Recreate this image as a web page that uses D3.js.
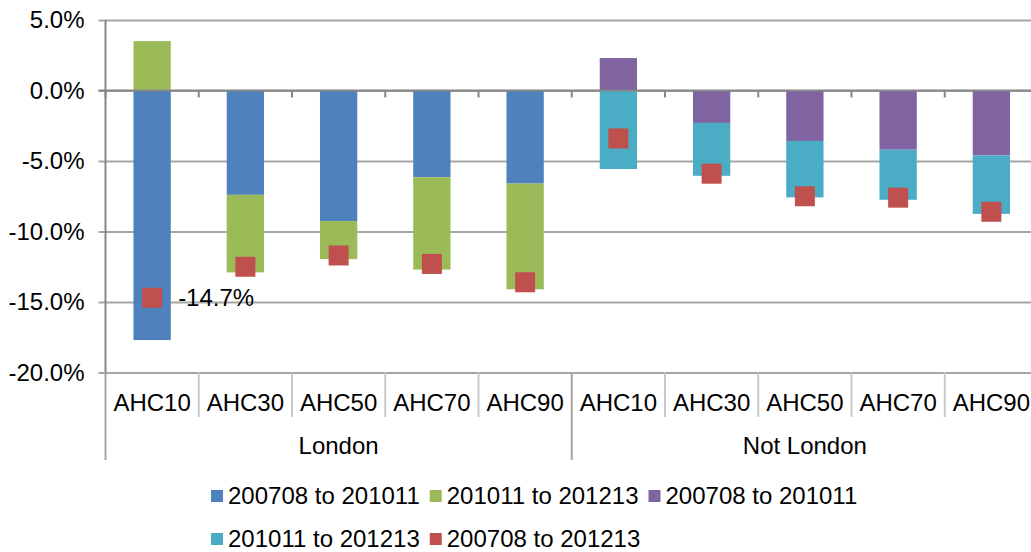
<!DOCTYPE html>
<html>
<head>
<meta charset="utf-8">
<script src="https://cdn.jsdelivr.net/npm/d3@7"></script>
<style>
    body { margin: 0; background: #fff; }
    text { font-family: "Liberation Sans", Arial, sans-serif; fill: #000; }
</style>
</head>
<body>
<div id="chart"></div>
<script>
// values, in percent
const categories = ["AHC10", "AHC30", "AHC50", "AHC70", "AHC90"];
const groups = ["London", "Not London"];
const londonEarly = [-17.7, -7.4, -9.26, -6.15, -6.6];
const londonLate = [3.5, -5.5, -2.7, -6.55, -7.5];
const notLondonEarly = [2.3, -2.3, -3.58, -4.2, -4.6];
const notLondonLate = [-5.57, -3.75, -4.0, -3.55, -4.15];
const totalChange = [-14.7, -12.5, -11.7, -12.3, -13.6, -3.4, -5.9, -7.5, -7.6, -8.6];
const yTicks = [5, 0, -5, -10, -15, -20];

const seriesKeys = ["londonEarly", "londonLate", "notLondonEarly", "notLondonLate"];
const legendItems = [
    {'key': 'londonEarly', 'text': '200708 to 201011', 'color': '#4F81BD'},
    {'key': 'londonLate', 'text': '201011 to 201213', 'color': '#9BBB59'},
    {'key': 'notLondonEarly', 'text': '200708 to 201011', 'color': '#8064A2'},
    {'key': 'notLondonLate', 'text': '201011 to 201213', 'color': '#4BACC6'},
    {'key': 'total', 'text': '200708 to 201213', 'color': '#C0504D'}
];
const colors = {};
legendItems.forEach((d) => { colors[d.key] = d.color; });

// one row per category, London first
let rows = [];
groups.forEach((g, gi) => {
    categories.forEach((c, i) => {
        rows.push({
            'id': gi * categories.length + i,
            'group': g,
            'cat': c,
            'londonEarly': gi === 0 ? londonEarly[i] / 100 : 0,
            'londonLate': gi === 0 ? londonLate[i] / 100 : 0,
            'notLondonEarly': gi === 1 ? notLondonEarly[i] / 100 : 0,
            'notLondonLate': gi === 1 ? notLondonLate[i] / 100 : 0,
            'total': totalChange[gi * categories.length + i] / 100
        });
    });
});

const chartWidth = 1031, chartHeight = 552;
const plotLeft = 105.5, plotRight = 1038, plotTop = 20, plotBottom = 372.5;
const fontSize = 24;

// Excel writes a plain hyphen, not the unicode minus
const pct = (v) => d3.format(".1%")(v).replace("\u2212", "-");

const svg = d3.select("#chart").append("svg")
    .attr("width", chartWidth)
    .attr("height", chartHeight);

const x = d3.scaleBand()
    .domain(rows.map((d) => d.id))
    .range([plotLeft, plotRight])
    .paddingInner(0.6)
    .paddingOuter(0.3);

const y = d3.scaleLinear()
    .domain([-0.2, 0.05])
    .range([plotBottom, plotTop]);

// gridlines + y axis ticks
const yAxis = svg.append("g")
    .attr("transform", "translate(" + plotLeft + ",0)")
    .call(d3.axisLeft(y)
        .tickValues(yTicks.map((v) => v / 100))
        .tickFormat(pct)
        .tickSize(7)
        .tickSizeOuter(0)
        .tickPadding(14));
yAxis.select(".domain").remove();
yAxis.selectAll(".tick line")
    .attr("x1", -7)
    .attr("x2", plotRight - plotLeft)
    .attr("stroke", "#a6a6a6")
    .attr("stroke-width", 2);
yAxis.selectAll(".tick text")
    .style("font-size", fontSize + "px")
    .style("font-family", '"Liberation Sans", Arial, sans-serif')
    .attr("fill", "#000");

// stacked bars (positive and negative stacked apart, as Excel does)
const stacked = d3.stack()
    .keys(seriesKeys)
    .offset(d3.stackOffsetDiverging)(rows);

svg.append("g")
    .selectAll("g")
    .data(stacked)
    .enter()
    .append("g")
    .attr("fill", (s) => colors[s.key])
    .selectAll("rect")
    .data((s) => s.filter((d) => d[1] !== d[0]))
    .enter()
    .append("rect")
    .attr("x", (d) => x(d.data.id))
    .attr("width", x.bandwidth())
    .attr("y", (d) => y(Math.max(d[0], d[1])))
    .attr("height", (d) => Math.abs(y(d[0]) - y(d[1])));

// zero line with ticks between categories
svg.append("line")
    .attr("x1", plotLeft - 7).attr("x2", plotRight)
    .attr("y1", y(0)).attr("y2", y(0))
    .attr("stroke", "#868686")
    .attr("stroke-width", 2);

const step = x.step();
const boundaries = d3.range(rows.length + 1).map((i) => plotLeft + i * step);
svg.append("g")
    .selectAll("line")
    .data(boundaries)
    .enter()
    .append("line")
    .attr("x1", (d) => d).attr("x2", (d) => d)
    .attr("y1", y(0)).attr("y2", y(0) + 7)
    .attr("stroke", "#868686")
    .attr("stroke-width", 2);

// y axis line
svg.append("line")
    .attr("x1", plotLeft).attr("x2", plotLeft)
    .attr("y1", plotTop).attr("y2", plotBottom)
    .attr("stroke", "#868686")
    .attr("stroke-width", 2);

// category box below the plot
svg.append("g")
    .selectAll("line")
    .data(boundaries)
    .enter()
    .append("line")
    .attr("x1", (d) => d).attr("x2", (d) => d)
    .attr("y1", plotBottom)
    .attr("y2", (d, i) => i % categories.length === 0 ? 460 : 417)
    .attr("stroke", (d, i) => i % categories.length === 0 ? "#a6a6a6" : "#c8c8c8")
    .attr("stroke-width", 2);

svg.append("g")
    .selectAll("text")
    .data(rows)
    .enter()
    .append("text")
    .attr("x", (d) => x(d.id) + x.bandwidth() / 2)
    .attr("y", 411)
    .attr("text-anchor", "middle")
    .style("font-size", fontSize + "px")
    .text((d) => d.cat);

svg.append("g")
    .selectAll("text")
    .data(groups)
    .enter()
    .append("text")
    .attr("x", (d, i) => plotLeft + (i + 0.5) * categories.length * step)
    .attr("y", 454)
    .attr("text-anchor", "middle")
    .style("font-size", fontSize + "px")
    .text((d) => d);

// markers for the whole period
const markerSize = 20;
svg.append("g")
    .selectAll("rect")
    .data(rows)
    .enter()
    .append("rect")
    .attr("x", (d) => x(d.id) + x.bandwidth() / 2 - markerSize / 2)
    .attr("y", (d) => y(d.total) - markerSize / 2)
    .attr("width", markerSize)
    .attr("height", markerSize)
    .attr("fill", colors['total']);

// only the first marker carries a label
svg.append("text")
    .attr("x", x(rows[0].id) + x.bandwidth() / 2 + markerSize / 2 + 16)
    .attr("y", y(rows[0].total) + 8)
    .style("font-size", fontSize + "px")
    .text(pct(rows[0].total));

// legend, two rows
const legendRows = [legendItems.slice(0, 3), legendItems.slice(3)];
const legendY = [496, 539];
legendRows.forEach((items, r) => {
    let cx = 211;
    items.forEach((d) => {
        let g = svg.append("g").attr("class", "legend-item");
        g.append("rect")
            .attr("x", cx)
            .attr("y", legendY[r] - 6)
            .attr("width", 12)
            .attr("height", 12)
            .attr("fill", d.color);
        let t = g.append("text")
            .attr("x", cx + 17)
            .attr("y", legendY[r] + 8)
            .style("font-size", fontSize + "px")
            .text(d.text);
        cx = cx + 17 + t.node().getComputedTextLength() + 10;
    });
});
</script>
</body>
</html>
